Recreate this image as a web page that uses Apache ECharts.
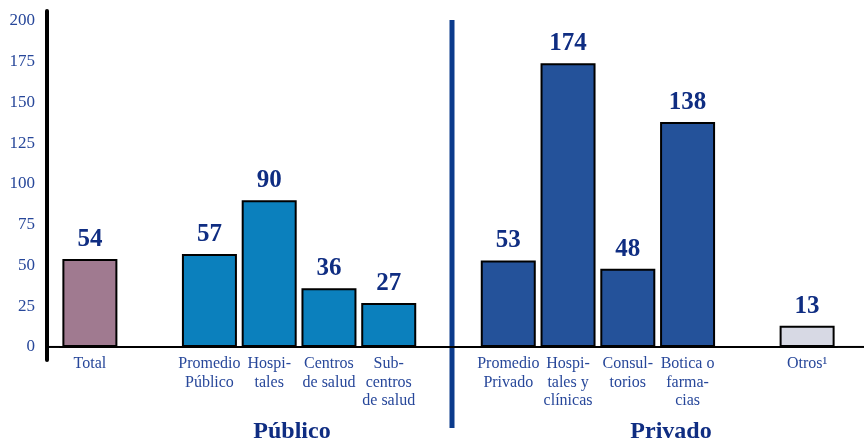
<!DOCTYPE html>
<html>
<head>
<meta charset="utf-8">
<script src="https://cdn.jsdelivr.net/npm/echarts@6/dist/echarts.min.js"></script>
<style>
    html, body { margin: 0; padding: 0; background: #fff; }
    #chart { width: 864px; height: 443px; }
</style>
</head>
<body>
<div id="chart"></div>
<script>
// categorías (las vacías son huecos entre grupos)
var categories = ['Total', '', 'Promedio\nPúblico', 'Hospi-\ntales', 'Centros\nde salud', 'Sub-\ncentros\nde salud',
    '', 'Promedio\nPrivado', 'Hospi-\ntales y\nclínicas', 'Consul-\ntorios', 'Botica o\nfarma-\ncias', '', 'Otros¹'];
var values = [54, null, 57, 90, 36, 27, null, 53, 174, 48, 138, null, 13];
var groups = ['total', '', 'publico', 'publico', 'publico', 'publico', '', 'privado', 'privado', 'privado', 'privado', '', 'otros'];
var yTicks = [0, 25, 50, 75, 100, 125, 150, 175, 200];
var groupNames = ['Público', 'Privado'];

var colorMap = {
    total: '#a07a90',
    publico: '#0b80bd',
    privado: '#24529a',
    otros: '#d7d9e4'
};

var serif = '"Liberation Serif", "DejaVu Serif", serif';
var labelBlue = '#27479a';
var darkBlue = '#0f2d82';

var chart = echarts.init(document.getElementById('chart'));

var seriesData = [];
for (var i = 0; i < values.length; i++) {
    seriesData.push({
        value: values[i] === null ? '-' : values[i],
        itemStyle: { color: colorMap[groups[i]] || '#fff' }
    });
}

var option = {
    animation: false,
    grid: {
        left: 60,
        right: 27,
        top: 11,
        bottom: 83
    },
    xAxis: {
        type: 'category',
        data: categories,
        axisTick: { show: false },
        axisLine: {
            show: true,
            lineStyle: { color: '#000', width: 2 }
        },
        axisLabel: {
            interval: 0,
            margin: -5,
            color: labelBlue,
            fontFamily: serif,
            fontSize: 16,
            lineHeight: 18.5
        }
    },
    yAxis: {
        type: 'value',
        min: -8,
        max: 206,
        offset: 13,
        splitLine: { show: false },
        axisTick: { show: false },
        axisLine: {
            show: true,
            lineStyle: { color: '#000', width: 4 }
        },
        axisLabel: {
            customValues: yTicks,
            margin: 12,
            color: labelBlue,
            fontFamily: serif,
            fontSize: 17
        }
    },
    series: [{
        type: 'bar',
        barWidth: 55,
        data: seriesData,
        itemStyle: {
            borderColor: '#000',
            borderWidth: 2
        },
        label: {
            show: true,
            position: 'top',
            distance: 7,
            color: darkBlue,
            fontFamily: serif,
            fontWeight: 'bold',
            fontSize: 25
        }
    }]
};

chart.setOption(option);

// línea divisoria, extensión de la base y nombres de grupo
var divX = chart.convertToPixel({ xAxisIndex: 0 }, 6) + 3;
var zeroY = chart.convertToPixel({ yAxisIndex: 0 }, 0);

chart.setOption({
    graphic: [
        {
            type: 'line',
            shape: { x1: 47, y1: zeroY, x2: 60, y2: zeroY },
            style: { stroke: '#000', lineWidth: 2 }
        },
        {
            type: 'line',
            shape: { x1: 837, y1: zeroY, x2: 864, y2: zeroY },
            style: { stroke: '#000', lineWidth: 2 }
        },
        {
            type: 'rect',
            shape: { x: divX - 2, y: 20, width: 5, height: 408 },
            style: { fill: '#0b3b8c' }
        },
        {
            type: 'text',
            x: 292,
            y: 432,
            style: {
                text: groupNames[0],
                fill: darkBlue,
                font: 'bold 24px ' + serif,
                textAlign: 'center',
                textVerticalAlign: 'middle'
            }
        },
        {
            type: 'text',
            x: 671,
            y: 432,
            style: {
                text: groupNames[1],
                fill: darkBlue,
                font: 'bold 24px ' + serif,
                textAlign: 'center',
                textVerticalAlign: 'middle'
            }
        }
    ]
});
</script>
</body>
</html>
